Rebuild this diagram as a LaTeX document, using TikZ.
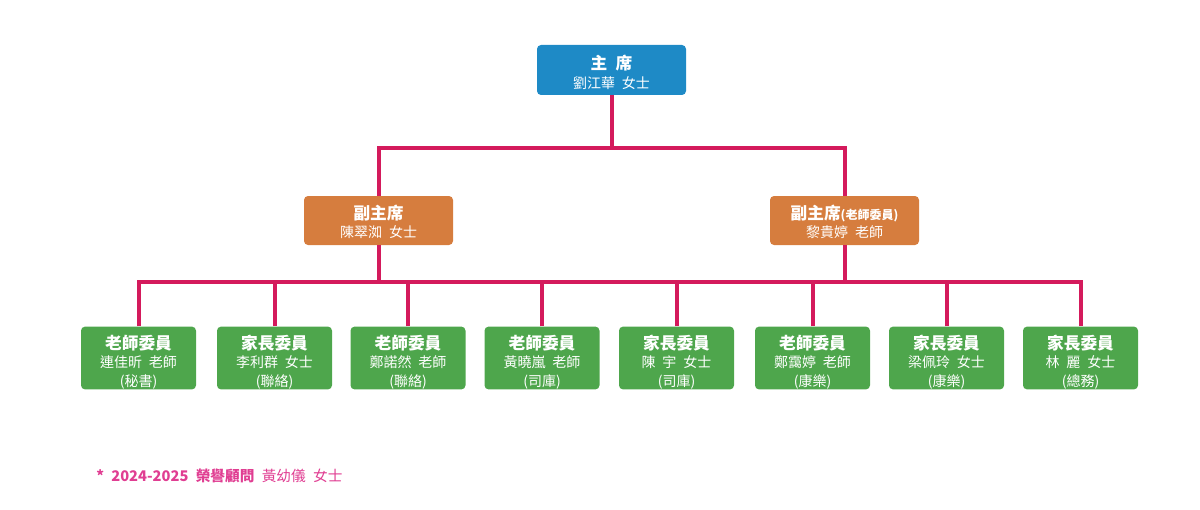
\documentclass[tikz,border=0pt]{standalone}
\usepackage{fontspec}
\setmainfont{Noto Sans CJK TC}
\definecolor{cblue}{RGB}{30,138,198}
\definecolor{corange}{RGB}{214,125,62}
\definecolor{cgreen}{RGB}{78,166,76}
\definecolor{cline}{RGB}{212,26,92}
\definecolor{cpink}{RGB}{224,62,146}
\tikzset{
  box/.style={rounded corners=3pt, text=white, align=center, inner sep=0pt,
    font=\fontsize{10.5}{14}\selectfont},
  topbox/.style={box, fill=cblue, minimum width=111.75pt, minimum height=37.5pt},
  vicebox/.style={box, fill=corange, minimum width=111.75pt, minimum height=36.75pt},
  membox/.style={box, fill=cgreen, minimum width=86.25pt, minimum height=46.5pt},
  conn/.style={draw=cline, line width=3pt, line join=miter},
}
\newcommand{\ttl}[1]{{\bfseries\fontsize{12.5}{14}\selectfont #1}}
\newcommand{\gap}{\hspace{0.5em}}
\newcommand{\up}[1]{\rule{0pt}{#1}}
\begin{document}
\begin{tikzpicture}[x=0.75pt,y=-0.75pt]
\useasboundingbox (0,0) rectangle (1200,510);
\coordinate (h1) at (0,148);
\coordinate (h2) at (0,282);
% nodes
\node[topbox] (top) at (611.5,70) {\up{14pt}\ttl{主\gap 席}\\劉江華\gap 女士};
\node[vicebox] (vl) at (378.5,220.5) {\up{13pt}\ttl{副主席}\\陳翠洳\gap 女士};
\node[vicebox] (vr) at (844.5,220.5) {\up{13pt}\ttl{副主席{\fontsize{9}{14}\selectfont(老師委員)}}\\黎貴婷\gap 老師};
\node[membox] (b1) at (138.5,358) {\up{17pt}\ttl{老師委員}\\連佳昕\gap 老師\\(秘書)};
\node[membox] (b2) at (274.5,358) {\up{17pt}\ttl{家長委員}\\李利群\gap 女士\\(聯絡)};
\node[membox] (b3) at (408,358) {\up{17pt}\ttl{老師委員}\\鄭諾然\gap 老師\\(聯絡)};
\node[membox] (b4) at (542,358) {\up{17pt}\ttl{老師委員}\\黃曉嵐\gap 老師\\(司庫)};
\node[membox] (b5) at (676.5,358) {\up{17pt}\ttl{家長委員}\\陳\gap 宇\gap 女士\\(司庫)};
\node[membox] (b6) at (812.5,358) {\up{17pt}\ttl{老師委員}\\鄭靄婷\gap 老師\\(康樂)};
\node[membox] (b7) at (946.5,358) {\up{17pt}\ttl{家長委員}\\梁佩玲\gap 女士\\(康樂)};
\node[membox] (b8) at (1080.5,358) {\up{17pt}\ttl{家長委員}\\林\gap 麗\gap 女士\\(總務)};
\node[anchor=west, text=cpink, inner sep=0pt, font=\fontsize{11}{13}\selectfont] (note) at (96,476)
  {{\bfseries *\gap 2024-2025\gap 榮譽顧問}\gap 黃幼儀\gap 女士};
% connectors
\draw[conn] (top.south) -- (top.south |- h1);
\draw[conn] (vl.north) |- (vr.north |- h1) -- (vr.north);
\draw[conn] (b1.north) |- (b8.north |- h2) -- (b8.north);
\foreach \b in {b2,b3,b4,b5,b6,b7} \draw[conn] (\b.north) -- (\b.north |- h2);
\draw[conn] (vl.south) -- (vl.south |- h2);
\draw[conn] (vr.south) -- (vr.south |- h2);
\end{tikzpicture}
\end{document}
